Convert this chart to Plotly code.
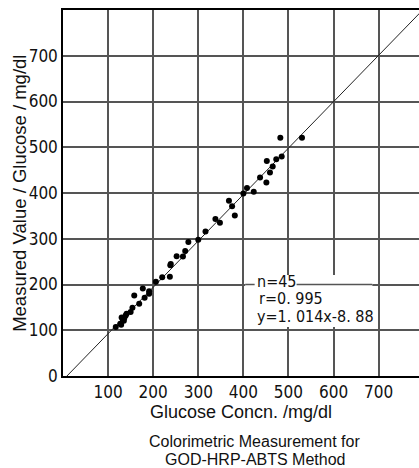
import plotly.graph_objects as go

# Data
glucose_x = [117,127,129,130,133,135,136,139,141,150,154,158,169,177,181,191,191,
             206,220,237,238,239,252,266,271,278,300,316,338,348,368,375,381,
             400,408,423,437,451,452,459,465,473,482,485,530]
measured_y = [107,114,112,128,122,121,127,132,136,140,149,176,158,191,171,180,185,
              206,216,217,242,245,262,261,273,293,298,316,343,335,383,371,351,
              399,411,403,434,423,470,445,458,474,521,480,521]
slope = 1.014
intercept = -8.88
stats_lines = ["n=45", "r=0. 995", "y=1. 014x-8. 88"]
x_ticks = [100, 200, 300, 400, 500, 600, 700]
y_ticks = [0, 100, 200, 300, 400, 500, 600, 700]
x_title = "Glucose Concn. /mg/dl"
y_title = "Measured Value / Glucose / mg/dl"
caption = ["Colorimetric Measurement for", "GOD-HRP-ABTS Method"]

NARROW = "Liberation Sans Narrow, Arial Narrow, DejaVu Sans Condensed, Liberation Sans, Arial"
REG = "Liberation Sans, Arial, Helvetica"

XMAX = 789.5
YMAX = 800

fig = go.Figure()

# regression line
x0 = -intercept / slope
x1 = (YMAX - intercept) / slope
fig.add_trace(go.Scatter(x=[x0, x1], y=[slope * x0 + intercept, slope * x1 + intercept],
                         mode="lines", line=dict(color="#222", width=1), hoverinfo="skip"))
fig.add_trace(go.Scatter(x=glucose_x, y=measured_y, mode="markers",
                         marker=dict(color="black", size=6)))

# white-out patch behind the statistics text
fig.add_shape(type="rect", xref="x", yref="y", x0=404, x1=686, y0=107, y1=221,
              fillcolor="white", line=dict(width=0), layer="above")
fig.add_shape(type="line", xref="x", yref="y", x0=404, x1=425, y0=200, y1=200,
              line=dict(color="#555", width=1.5), layer="above")
fig.add_shape(type="line", xref="x", yref="y", x0=518, x1=686, y0=200, y1=200,
              line=dict(color="#555", width=1.5), layer="above")

stat_pos = [(427, 207.6), (432, 169.4), (427, 130)]
for txt, (sx, sy) in zip(stats_lines, stat_pos):
    fig.add_annotation(x=sx, y=sy, xref="x", yref="y", text=txt, showarrow=False,
                       xanchor="left", yanchor="middle", borderpad=0,
                       font=dict(family=NARROW, size=16, color="#111"))

cap_pos = [-0.178, -0.229]
for txt, cy in zip(caption, cap_pos):
    fig.add_annotation(x=0.539, y=cy, xref="paper", yref="paper", text=txt,
                       showarrow=False, xanchor="center", yanchor="middle",
                       font=dict(family=REG, size=16, color="#111"))

# y-axis title
fig.add_annotation(x=-0.124, y=0.5, xref="paper", yref="paper", text=y_title,
                   textangle=-90, showarrow=False, xanchor="center", yanchor="middle",
                   font=dict(family=REG, size=18.5, color="#111"))

fig.update_xaxes(range=[0, XMAX], tickvals=x_ticks, ticktext=[str(v) for v in x_ticks],
                 showgrid=True, gridcolor="#555", gridwidth=1.5,
                 showline=True, linecolor="black", linewidth=1.5, mirror=True,
                 ticks="", zeroline=False,
                 tickfont=dict(family=NARROW, size=17, color="#111"),
                 title=dict(text=x_title, font=dict(family=REG, size=18, color="#111"), standoff=4))
fig.update_yaxes(range=[0, YMAX], tickvals=y_ticks, ticktext=[str(v) for v in y_ticks],
                 showgrid=True, gridcolor="#555", gridwidth=1.5,
                 showline=True, linecolor="black", linewidth=1.5,
                 ticks="", zeroline=False,
                 tickfont=dict(family=NARROW, size=17, color="#111"))

fig.update_layout(width=419, height=468, margin=dict(l=63, r=0, t=10, b=92),
                  plot_bgcolor="white", paper_bgcolor="white", showlegend=False)

fig.write_html("out.html")
